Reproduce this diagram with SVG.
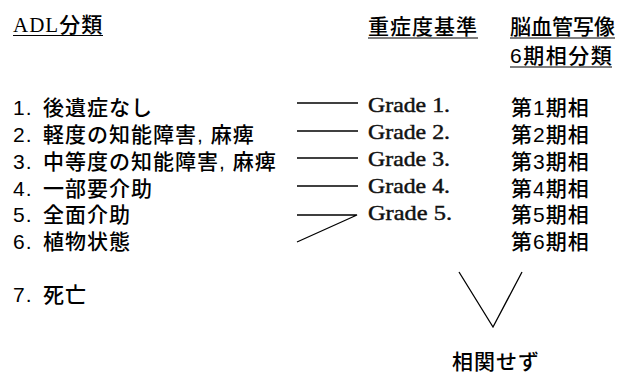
<svg xmlns="http://www.w3.org/2000/svg" width="622" height="374" viewBox="0 0 622 374">
<style>
.t{font-family:"Liberation Sans","Noto Sans CJK JP",sans-serif;font-size:21px;font-weight:500;letter-spacing:1px;fill:#000}
.g{font-family:"Liberation Serif",serif;font-size:21px;fill:#111;stroke:#111;stroke-width:0.45}
.ln{stroke:#000;stroke-width:1.3;fill:none}
.ul{stroke:#000;stroke-width:1.2}
</style>
<rect width="622" height="374" fill="#fff"/>
<g id="headers">
<text class="t" y="32"><tspan x="13" style="font-family:'Liberation Serif',serif">ADL</tspan><tspan>分類</tspan></text>
<line class="ul" x1="13" y1="35.5" x2="103" y2="35.5"/>
<text class="t" x="368" y="34">重症度基準</text>
<line class="ul" x1="368" y1="38" x2="478" y2="38"/>
<text class="t" x="510" y="34" style="letter-spacing:0px">脳血管写像</text>
<line class="ul" x1="510" y1="38" x2="615" y2="38"/>
<text class="t" x="510" y="63" style="letter-spacing:1.5px">6期相分類</text>
<line class="ul" x1="510" y1="67" x2="612" y2="67"/>
</g>
<g id="adl">
<text class="t" y="115"><tspan x="13">1.</tspan><tspan x="43">後遺症なし</tspan></text>
<text class="t" y="142"><tspan x="13">2.</tspan><tspan x="43">軽度の知能障害, 麻痺</tspan></text>
<text class="t" y="168.5"><tspan x="13">3.</tspan><tspan x="43">中等度の知能障害, 麻痺</tspan></text>
<text class="t" y="195.5"><tspan x="13">4.</tspan><tspan x="43">一部要介助</tspan></text>
<text class="t" y="222"><tspan x="13">5.</tspan><tspan x="43">全面介助</tspan></text>
<text class="t" y="249"><tspan x="13">6.</tspan><tspan x="43">植物状態</tspan></text>
<text class="t" y="302"><tspan x="13">7.</tspan><tspan x="43">死亡</tspan></text>
</g>
<g id="grades">
<text class="g" x="368" y="112" textLength="82" lengthAdjust="spacingAndGlyphs">Grade 1.</text>
<text class="g" x="368" y="139" textLength="82" lengthAdjust="spacingAndGlyphs">Grade 2.</text>
<text class="g" x="368" y="166" textLength="82" lengthAdjust="spacingAndGlyphs">Grade 3.</text>
<text class="g" x="368" y="193" textLength="82" lengthAdjust="spacingAndGlyphs">Grade 4.</text>
<text class="g" x="368" y="220" textLength="84" lengthAdjust="spacingAndGlyphs">Grade 5.</text>
</g>
<g id="phases">
<text class="t" x="511" y="115">第1期相</text>
<text class="t" x="511" y="142">第2期相</text>
<text class="t" x="511" y="168.5">第3期相</text>
<text class="t" x="511" y="195.5">第4期相</text>
<text class="t" x="511" y="222">第5期相</text>
<text class="t" x="511" y="249">第6期相</text>
<text class="t" x="452" y="369">相関せず</text>
</g>
<g id="connectors">
<line class="ln" x1="297" y1="103" x2="358" y2="103" stroke-width="1"/>
<line class="ln" x1="297" y1="131" x2="358" y2="131"/>
<line class="ln" x1="297" y1="158" x2="358" y2="158"/>
<line class="ln" x1="297" y1="186" x2="358" y2="186"/>
<polyline class="ln" points="297,215 357,215 297,242"/>
<polyline class="ln" points="459,272 493,327 522,272"/>
</g>
</svg>
